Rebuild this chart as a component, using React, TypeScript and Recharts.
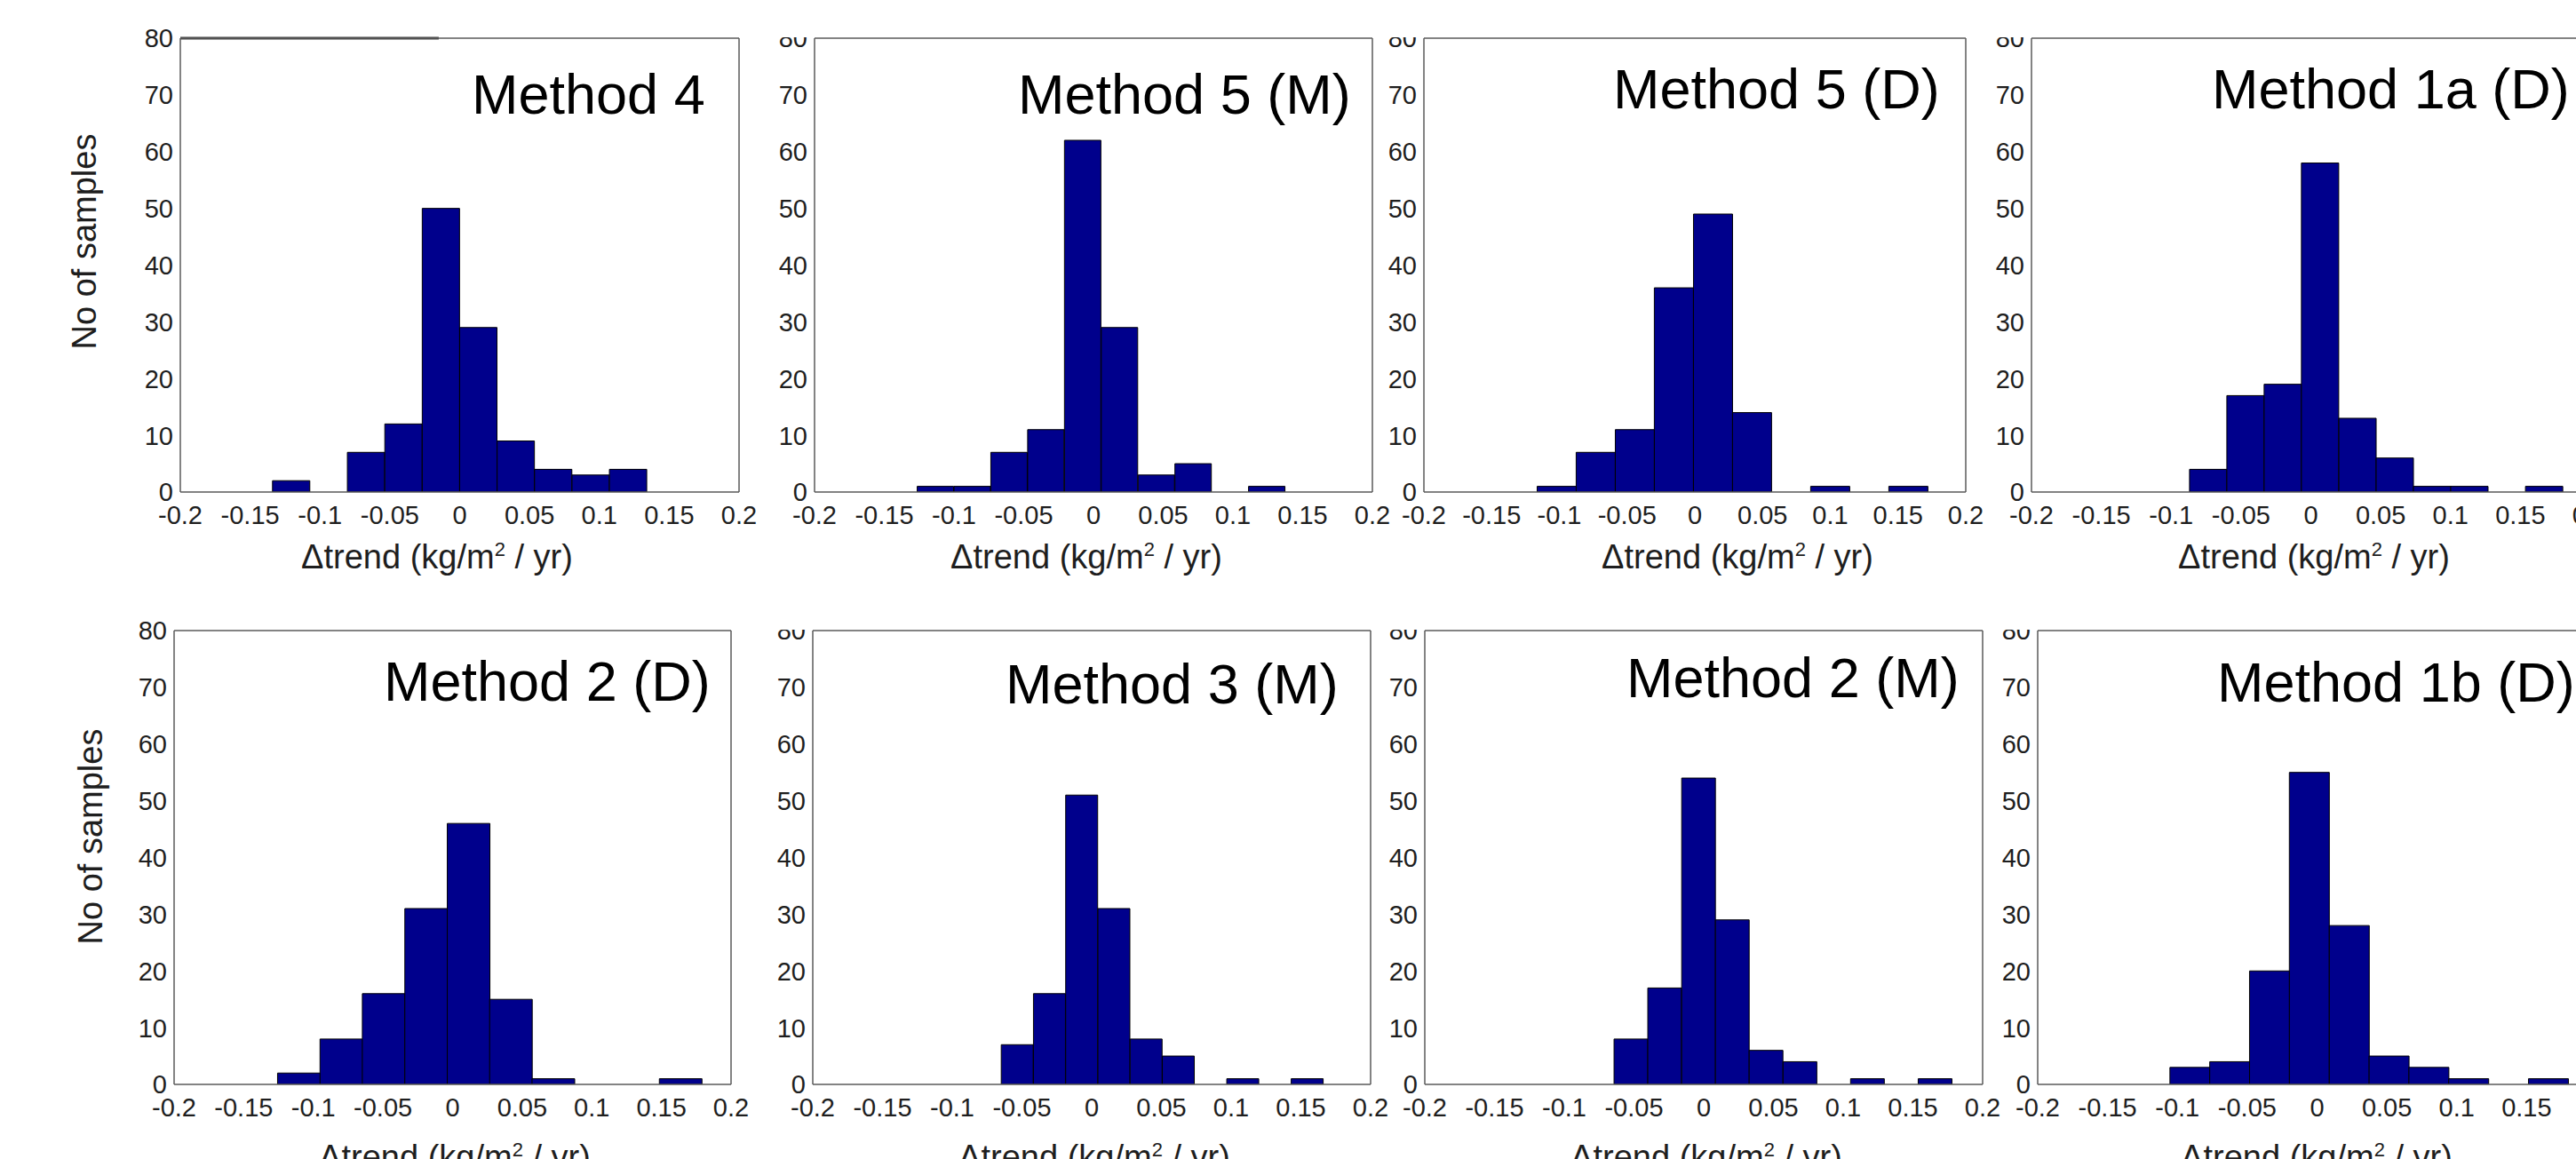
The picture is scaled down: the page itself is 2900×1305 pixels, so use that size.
import React from 'react';
import { BarChart, Bar, XAxis, YAxis, ReferenceLine } from 'recharts';

const X_TICKS = [-0.2, -0.15, -0.1, -0.05, 0, 0.05, 0.1, 0.15, 0.2];
const Y_TICKS = [0, 10, 20, 30, 40, 50, 60, 70, 80];

// bin centres and counts (10 bins per histogram)
const M4_X = [-0.1206, -0.0938, -0.067, -0.0402, -0.0134, 0.0134, 0.0402, 0.067, 0.0938, 0.1206];
const M4_N = [2, 0, 7, 12, 50, 29, 9, 4, 3, 4];

const M5M_X = [-0.1132, -0.0868, -0.0604, -0.034, -0.0076, 0.0188, 0.0452, 0.0716, 0.098, 0.1244];
const M5M_N = [1, 1, 7, 11, 62, 29, 3, 5, 0, 1];

const M5D_X = [-0.102, -0.0732, -0.0443, -0.0155, 0.0134, 0.0422, 0.0711, 0.0999, 0.1288, 0.1576];
const M5D_N = [1, 7, 11, 36, 49, 14, 0, 1, 0, 1];

const M1A_X = [-0.0735, -0.0468, -0.0201, 0.0066, 0.0334, 0.0601, 0.0868, 0.1135, 0.1402, 0.167];
const M1A_N = [4, 17, 19, 58, 13, 6, 1, 1, 0, 1];

const M2D_X = [-0.1105, -0.08, -0.0496, -0.0191, 0.0114, 0.0418, 0.0723, 0.1028, 0.1332, 0.1637];
const M2D_N = [2, 8, 16, 31, 46, 15, 1, 0, 0, 1];

const M3M_X = [-0.0533, -0.0302, -0.0071, 0.016, 0.0391, 0.0622, 0.0853, 0.1084, 0.1315, 0.1546];
const M3M_N = [7, 16, 51, 31, 8, 5, 0, 1, 0, 1];

const M2M_X = [-0.0522, -0.028, -0.0037, 0.0205, 0.0447, 0.069, 0.0932, 0.1174, 0.1417, 0.1659];
const M2M_N = [8, 17, 54, 29, 6, 4, 0, 1, 0, 1];

const M1B_X = [-0.0911, -0.0626, -0.0341, -0.0056, 0.023, 0.0515, 0.08, 0.1085, 0.137, 0.1656];
const M1B_N = [3, 4, 20, 55, 28, 5, 3, 1, 0, 1];

const TITLES = [
  'Method 4', 'Method 5 (M)', 'Method 5 (D)', 'Method 1a (D)',
  'Method 2 (D)', 'Method 3 (M)', 'Method 2 (M)', 'Method 1b (D)',
];

const FONT = '"Liberation Sans", Arial, Helvetica, sans-serif';
const AXIS = '#5a5a5a';
const BAR = '#00008c';
const TXT = '#1e1e1e';
const Y_W = 70;
const X_H = 50;

// plot boxes on the page, plus where each panel's texts sit
const PANELS = [
  { xs: M4_X, ns: M4_N, x: 203, y: 43, w: 629, h: 511, full: true, tx: 531, ty: 128, lx: 492, ly: 640, yl: { x: 108, y: 272 } },
  { xs: M5M_X, ns: M5M_N, x: 917, y: 43, w: 628, h: 511, full: false, tx: 1146, ty: 128, lx: 1223, ly: 640 },
  { xs: M5D_X, ns: M5D_N, x: 1603, y: 43, w: 610, h: 511, full: false, tx: 1816, ty: 122, lx: 1956, ly: 640 },
  { xs: M1A_X, ns: M1A_N, x: 2287, y: 43, w: 629, h: 511, full: false, tx: 2490, ty: 122, lx: 2605, ly: 640 },
  { xs: M2D_X, ns: M2D_N, x: 196, y: 710, w: 627, h: 511, full: true, tx: 432, ty: 789, lx: 512, ly: 1316, yl: { x: 115, y: 942 } },
  { xs: M3M_X, ns: M3M_N, x: 915, y: 710, w: 628, h: 511, full: false, tx: 1132, ty: 792, lx: 1232, ly: 1316 },
  { xs: M2M_X, ns: M2M_N, x: 1604, y: 710, w: 628, h: 511, full: false, tx: 1831, ty: 785, lx: 1921, ly: 1316 },
  { xs: M1B_X, ns: M1B_N, x: 2294, y: 710, w: 629, h: 511, full: false, tx: 2496, ty: 790, lx: 2608, ly: 1316 },
];

function XTick(props: any) {
  const { x, y, payload } = props;
  return (
    <text x={x} y={y} dy="0.72em" textAnchor="middle" fontSize={29} fontFamily={FONT} fill={TXT}>
      {payload.value}
    </text>
  );
}

function YTick(props: any) {
  const { x, y, payload } = props;
  return (
    <text x={x} y={y} dy="0.36em" textAnchor="end" fontSize={29} fontFamily={FONT} fill={TXT}>
      {payload.value}
    </text>
  );
}

function Panel({ p, first }: { p: any; first: boolean }) {
  const rows = p.xs.map((x: number, i: number) => ({ x, n: p.ns[i] }));
  // cropped panels cut the "80" label in half
  const mt = p.full ? 24 : 1;
  const mr = 30;
  const w = Y_W + p.w + mr;
  const h = mt + p.h + X_H;
  return (
    <div style={{ position: 'absolute', left: p.x - Y_W, top: p.y - mt }}>
      <BarChart
        width={w}
        height={h}
        data={rows}
        margin={{ top: mt, right: mr, bottom: 0, left: 0 }}
        barCategoryGap={0}
        barGap={0}
      >
        <XAxis
          dataKey="x"
          type="number"
          domain={[-0.2, 0.2]}
          ticks={X_TICKS}
          interval={0}
          allowDataOverflow
          height={X_H}
          tickLine={false}
          tickSize={0}
          tickMargin={15}
          axisLine={{ stroke: AXIS, strokeWidth: 1.5 }}
          tick={<XTick />}
        />
        <XAxis
          xAxisId="bm"
          orientation="bottom"
          mirror
          type="number"
          domain={[-0.2, 0.2]}
          ticks={X_TICKS}
          interval={0}
          allowDataOverflow
          axisLine={false}
          tick={false}
          tickSize={7}
          tickLine={{ stroke: AXIS, strokeWidth: 1.2 }}
        />
        <XAxis
          xAxisId="top"
          orientation="top"
          mirror
          type="number"
          domain={[-0.2, 0.2]}
          ticks={X_TICKS}
          interval={0}
          allowDataOverflow
          axisLine={{ stroke: AXIS, strokeWidth: 1.5 }}
          tick={false}
          tickSize={7}
          tickLine={{ stroke: AXIS, strokeWidth: 1.2 }}
        />
        <YAxis
          type="number"
          domain={[0, 80]}
          ticks={Y_TICKS}
          interval={0}
          allowDataOverflow
          width={Y_W}
          tickLine={false}
          tickSize={0}
          tickMargin={8}
          axisLine={{ stroke: AXIS, strokeWidth: 1.5 }}
          tick={<YTick />}
        />
        <YAxis
          yAxisId="lm"
          orientation="left"
          mirror
          type="number"
          domain={[0, 80]}
          ticks={Y_TICKS}
          interval={0}
          allowDataOverflow
          axisLine={false}
          tick={false}
          tickSize={7}
          tickLine={{ stroke: AXIS, strokeWidth: 1.2 }}
        />
        <YAxis
          yAxisId="right"
          orientation="right"
          mirror
          type="number"
          domain={[0, 80]}
          ticks={Y_TICKS}
          interval={0}
          allowDataOverflow
          axisLine={{ stroke: AXIS, strokeWidth: 1.5 }}
          tick={false}
          tickSize={7}
          tickLine={{ stroke: AXIS, strokeWidth: 1.2 }}
        />
        {first && (
          <ReferenceLine
            segment={[{ x: -0.2, y: 80 }, { x: -0.015, y: 80 }]}
            stroke="#3c3c3c"
            strokeWidth={3}
            ifOverflow="visible"
          />
        )}
        <Bar dataKey="n" fill={BAR} stroke="#000" strokeWidth={1} isAnimationActive={false} />
      </BarChart>
    </div>
  );
}

export default function App() {
  return (
    <div style={{ position: 'fixed', left: 0, top: 0, width: 2900, height: 1305, overflow: 'hidden', background: '#fff' }}>
      {PANELS.map((p, i) => (
        <Panel key={i} p={p} first={i === 0} />
      ))}
      <svg width={2900} height={1305} style={{ position: 'absolute', left: 0, top: 0, pointerEvents: 'none' }}>
        {PANELS.map((p, i) => (
          <g key={i} fontFamily={FONT}>
            <text x={p.tx} y={p.ty} fontSize={63} fill="#000">{TITLES[i]}</text>
            <text x={p.lx} y={p.ly} fontSize={38} fill={TXT} textAnchor="middle">
              Δtrend (kg/m<tspan dy={-14} fontSize={22}>2</tspan><tspan dy={14}> / yr)</tspan>
            </text>
            {p.yl && (
              <text
                x={p.yl.x}
                y={p.yl.y}
                fontSize={38}
                fill={TXT}
                textAnchor="middle"
                transform={`rotate(-90 ${p.yl.x} ${p.yl.y})`}
              >
                No of samples
              </text>
            )}
          </g>
        ))}
      </svg>
    </div>
  );
}
